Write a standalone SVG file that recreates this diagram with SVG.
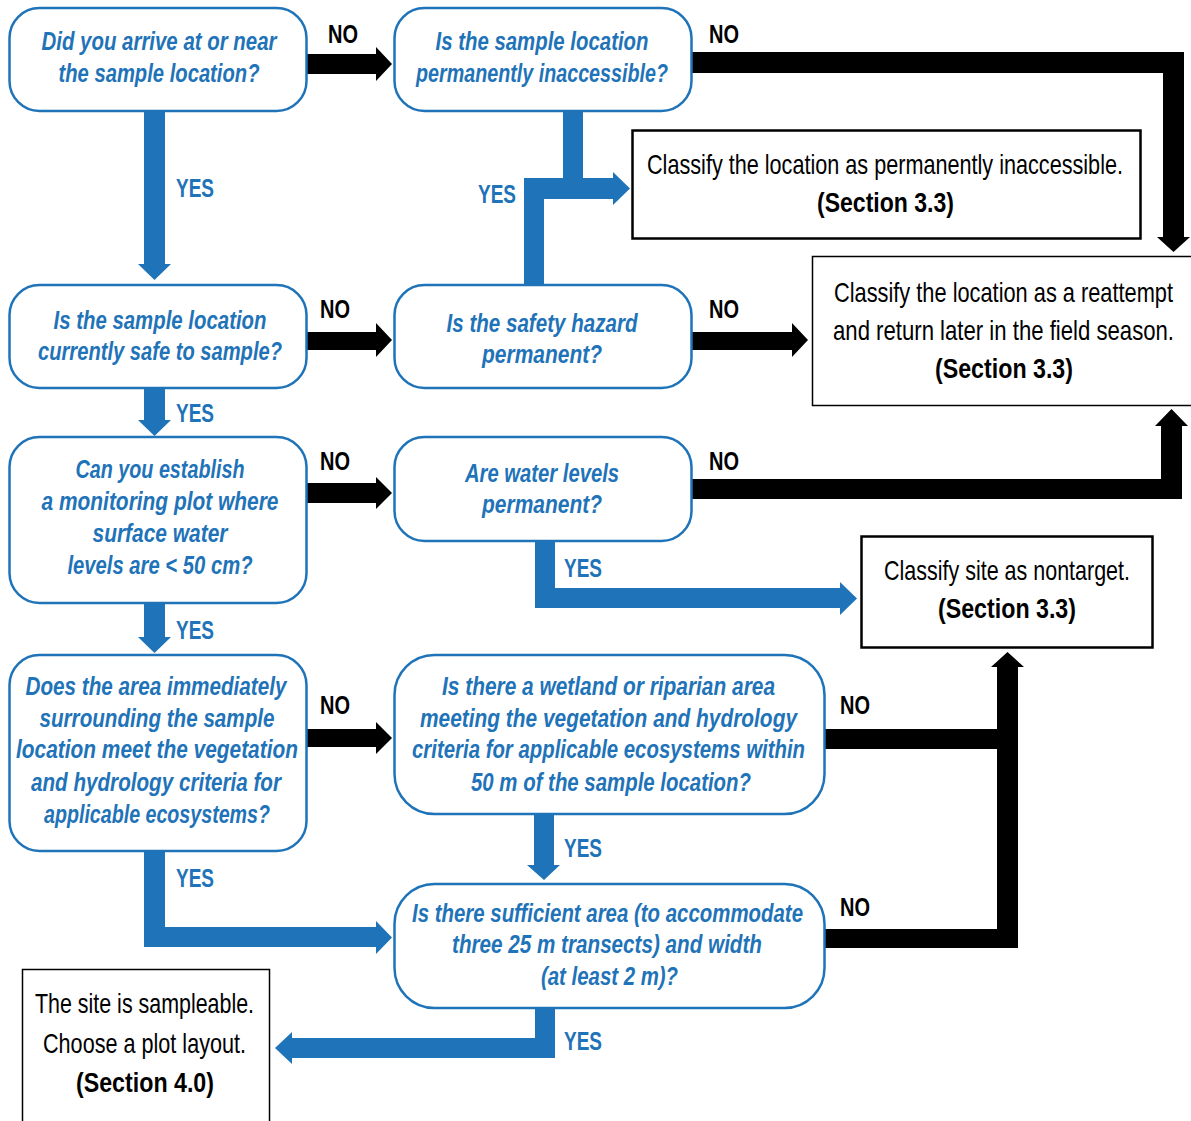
<svg xmlns="http://www.w3.org/2000/svg" width="1191" height="1121" viewBox="0 0 1191 1121">
<style>
.q rect{fill:#fff;stroke:#1F73B8;stroke-width:2.5}
.q text{font-family:"Liberation Sans Narrow","Liberation Sans",Arial,sans-serif;font-weight:bold;font-style:italic;font-size:25px;fill:#1F73B8;text-anchor:middle}
.b rect{fill:#fff;stroke:#000}
.b text{font-family:"Liberation Sans Narrow","Liberation Sans",Arial,sans-serif;font-size:28px;fill:#000;text-anchor:middle}
.b text.s{font-weight:bold}
.blue{fill:#1F73B8}
.blk{fill:#000}
.lab{font-family:"Liberation Sans Narrow","Liberation Sans",Arial,sans-serif;font-weight:bold;font-size:25px}
.lab.y{fill:#1F73B8}
.lab.n{fill:#000}
</style>

<g id="connectors">
  <polygon class="blk" points="306,54 376,54 376,47 392,64 376,81 376,74 306,74"/>
  <polygon class="blue" points="144,111 165,111 165,264 171,264 154.5,280 138,264 144,264"/>
  <polygon class="blk" points="692,52 1184,52 1184,237 1190,237 1173.5,252 1157,237 1163,237 1163,73 692,73"/>
  <polygon class="blue" points="524,285 524,178 563,178 563,111 583,111 583,178 613,178 613,172 630,188.5 613,205 613,199 544,199 544,285"/>
  <polygon class="blk" points="306,332 376,332 376,323 392,340 376,357 376,350 306,350"/>
  <polygon class="blue" points="144,388 165,388 165,420 171,420 154.5,436 138,420 144,420"/>
  <polygon class="blk" points="692,332 792,332 792,323 808,340 792,357 792,350 692,350"/>
  <polygon class="blk" points="306,483 376,483 376,477 392,493 376,509 376,503 306,503"/>
  <polygon class="blk" points="692,479 1161,479 1161,426 1155,426 1171.5,409 1188,426 1182,426 1182,499 692,499"/>
  <polygon class="blue" points="535,541 555,541 555,588 840,588 840,582 857,598.5 840,615 840,608 535,608"/>
  <polygon class="blue" points="144,603 165,603 165,637 171,637 154.5,653 138,637 144,637"/>
  <polygon class="blk" points="306,729 376,729 376,722 392,738 376,754 376,747 306,747"/>
  <polygon class="blue" points="144,851 165,851 165,927 376,927 376,921 392,937.5 376,954 376,947 144,947"/>
  <polygon class="blk" points="825,729 997,729 997,667 991,667 1007.5,652 1024,667 1018,667 1018,948 825,948 825,929 997,929 997,749 825,749"/>
  <polygon class="blue" points="534,814 554,814 554,865 560,865 544,880 527,865 534,865"/>
  <polygon class="blue" points="535,1008 555,1008 555,1058 292,1058 292,1064 275,1048 292,1032 292,1038 535,1038"/>
  <text class="lab n" x="328" y="43" textLength="30" lengthAdjust="spacingAndGlyphs">NO</text>
  <text class="lab n" x="709" y="43" textLength="30" lengthAdjust="spacingAndGlyphs">NO</text>
  <text class="lab n" x="320" y="318" textLength="30" lengthAdjust="spacingAndGlyphs">NO</text>
  <text class="lab n" x="709" y="318" textLength="30" lengthAdjust="spacingAndGlyphs">NO</text>
  <text class="lab n" x="320" y="470" textLength="30" lengthAdjust="spacingAndGlyphs">NO</text>
  <text class="lab n" x="709" y="470" textLength="30" lengthAdjust="spacingAndGlyphs">NO</text>
  <text class="lab n" x="320" y="714" textLength="30" lengthAdjust="spacingAndGlyphs">NO</text>
  <text class="lab n" x="840" y="714" textLength="30" lengthAdjust="spacingAndGlyphs">NO</text>
  <text class="lab n" x="840" y="916" textLength="30" lengthAdjust="spacingAndGlyphs">NO</text>
  <text class="lab y" x="176" y="197" textLength="38" lengthAdjust="spacingAndGlyphs">YES</text>
  <text class="lab y" x="478" y="203" textLength="38" lengthAdjust="spacingAndGlyphs">YES</text>
  <text class="lab y" x="176" y="422" textLength="38" lengthAdjust="spacingAndGlyphs">YES</text>
  <text class="lab y" x="564" y="577" textLength="38" lengthAdjust="spacingAndGlyphs">YES</text>
  <text class="lab y" x="176" y="639" textLength="38" lengthAdjust="spacingAndGlyphs">YES</text>
  <text class="lab y" x="564" y="857" textLength="38" lengthAdjust="spacingAndGlyphs">YES</text>
  <text class="lab y" x="176" y="887" textLength="38" lengthAdjust="spacingAndGlyphs">YES</text>
  <text class="lab y" x="564" y="1050" textLength="38" lengthAdjust="spacingAndGlyphs">YES</text>
</g>

<g id="q1" class="q">
  <rect x="9.5" y="8" width="297" height="103" rx="30"/>
  <text x="159" y="50" textLength="235" lengthAdjust="spacingAndGlyphs">Did you arrive at or near</text>
  <text x="159" y="82" textLength="201" lengthAdjust="spacingAndGlyphs">the sample location?</text>
</g>
<g id="q2" class="q">
  <rect x="394.5" y="8" width="297" height="103" rx="30"/>
  <text x="542" y="50" textLength="213" lengthAdjust="spacingAndGlyphs">Is the sample location</text>
  <text x="542" y="82" textLength="252" lengthAdjust="spacingAndGlyphs">permanently inaccessible?</text>
</g>
<g id="q3" class="q">
  <rect x="9.5" y="285" width="297" height="103" rx="30"/>
  <text x="160" y="329" textLength="213" lengthAdjust="spacingAndGlyphs">Is the sample location</text>
  <text x="160" y="360" textLength="244" lengthAdjust="spacingAndGlyphs">currently safe to sample?</text>
</g>
<g id="q4" class="q">
  <rect x="9.5" y="437" width="297" height="166" rx="30"/>
  <text x="160" y="478" textLength="169" lengthAdjust="spacingAndGlyphs">Can you establish</text>
  <text x="160" y="510" textLength="237" lengthAdjust="spacingAndGlyphs">a monitoring plot where</text>
  <text x="160" y="542" textLength="135" lengthAdjust="spacingAndGlyphs">surface water</text>
  <text x="160" y="574" textLength="185" lengthAdjust="spacingAndGlyphs">levels are &lt; 50 cm?</text>
</g>
<g id="q5" class="q">
  <rect x="394.5" y="285" width="297" height="103" rx="30"/>
  <text x="542" y="332" textLength="191" lengthAdjust="spacingAndGlyphs">Is the safety hazard</text>
  <text x="542" y="363" textLength="120" lengthAdjust="spacingAndGlyphs">permanent?</text>
</g>
<g id="q6" class="q">
  <rect x="394.5" y="437" width="297" height="104" rx="30"/>
  <text x="542" y="482" textLength="154" lengthAdjust="spacingAndGlyphs">Are water levels</text>
  <text x="542" y="513" textLength="120" lengthAdjust="spacingAndGlyphs">permanent?</text>
</g>
<g id="q7" class="q">
  <rect x="9.5" y="655" width="297" height="196" rx="30"/>
  <text x="156" y="695" textLength="261" lengthAdjust="spacingAndGlyphs">Does the area immediately</text>
  <text x="157" y="727" textLength="235" lengthAdjust="spacingAndGlyphs">surrounding the sample</text>
  <text x="157" y="758" textLength="282" lengthAdjust="spacingAndGlyphs">location meet the vegetation</text>
  <text x="156" y="791" textLength="250" lengthAdjust="spacingAndGlyphs">and hydrology criteria for</text>
  <text x="157" y="823" textLength="226" lengthAdjust="spacingAndGlyphs">applicable ecosystems?</text>
</g>
<g id="q8" class="q">
  <rect x="394.5" y="655" width="430" height="159" rx="40"/>
  <text x="608.5" y="695" textLength="333" lengthAdjust="spacingAndGlyphs">Is there a wetland or riparian area</text>
  <text x="608.5" y="727" textLength="377" lengthAdjust="spacingAndGlyphs">meeting the vegetation and hydrology</text>
  <text x="608.5" y="758" textLength="393" lengthAdjust="spacingAndGlyphs">criteria for applicable ecosystems within</text>
  <text x="611" y="791" textLength="280" lengthAdjust="spacingAndGlyphs">50 m of the sample location?</text>
</g>
<g id="q9" class="q">
  <rect x="394.5" y="884" width="430" height="124" rx="40"/>
  <text x="607.5" y="922" textLength="391" lengthAdjust="spacingAndGlyphs">Is there sufficient area (to accommodate</text>
  <text x="607" y="953" textLength="310" lengthAdjust="spacingAndGlyphs">three 25 m transects) and width</text>
  <text x="609.5" y="985" textLength="137" lengthAdjust="spacingAndGlyphs">(at least 2 m)?</text>
</g>

<g id="r1" class="b">
  <rect x="632.5" y="130.5" width="508" height="108" stroke-width="2.5"/>
  <text x="885" y="174" textLength="476" lengthAdjust="spacingAndGlyphs">Classify the location as permanently inaccessible.</text>
  <text class="s" x="885.5" y="212" textLength="137" lengthAdjust="spacingAndGlyphs">(Section 3.3)</text>
</g>
<g id="r2" class="b">
  <rect x="812.5" y="256.5" width="390" height="149" stroke-width="1.5" stroke="#333"/>
  <text x="1003.5" y="302" textLength="339" lengthAdjust="spacingAndGlyphs">Classify the location as a reattempt</text>
  <text x="1003.5" y="340" textLength="341" lengthAdjust="spacingAndGlyphs">and return later in the field season.</text>
  <text class="s" x="1004" y="378" textLength="138" lengthAdjust="spacingAndGlyphs">(Section 3.3)</text>
</g>
<g id="r3" class="b">
  <rect x="861.5" y="536.5" width="291" height="111" stroke-width="2.5"/>
  <text x="1007" y="580" textLength="246" lengthAdjust="spacingAndGlyphs">Classify site as nontarget.</text>
  <text class="s" x="1007" y="618" textLength="138" lengthAdjust="spacingAndGlyphs">(Section 3.3)</text>
</g>
<g id="r4" class="b">
  <rect x="22.5" y="969.5" width="247" height="160" stroke-width="1.5"/>
  <text x="144.5" y="1013" textLength="219" lengthAdjust="spacingAndGlyphs">The site is sampleable.</text>
  <text x="144.5" y="1053" textLength="203" lengthAdjust="spacingAndGlyphs">Choose a plot layout.</text>
  <text class="s" x="145" y="1092" textLength="138" lengthAdjust="spacingAndGlyphs">(Section 4.0)</text>
</g>
</svg>
